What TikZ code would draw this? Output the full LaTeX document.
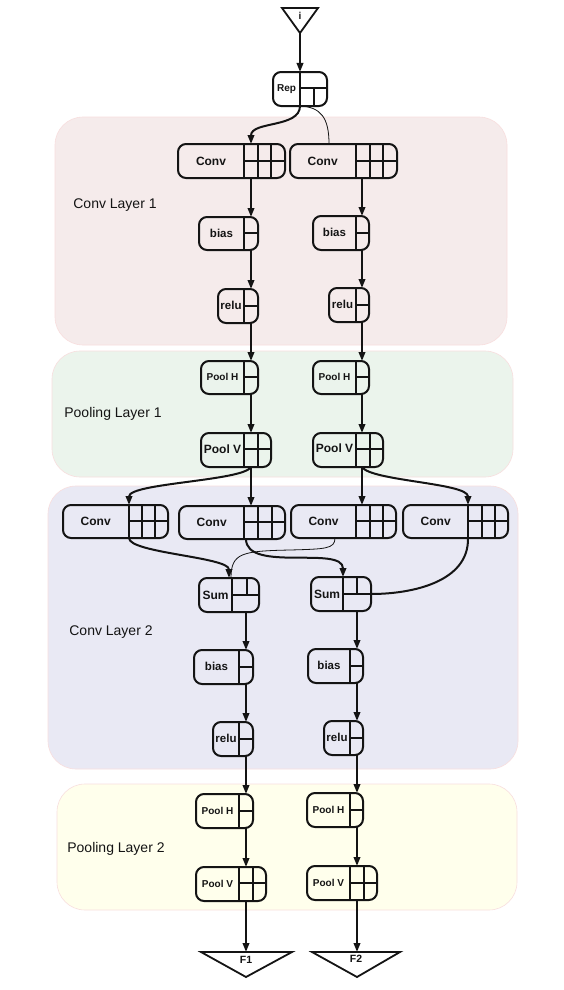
\documentclass[tikz,border=0pt]{standalone}
\usepackage{fontspec}
\setmainfont{Liberation Sans}
\usetikzlibrary{arrows.meta,fit}
\definecolor{pinkb}{HTML}{F8DEDE}
\definecolor{cone}{HTML}{F5EBEB}
\definecolor{pone}{HTML}{EBF4EC}
\definecolor{ctwo}{HTML}{E9E9F4}
\definecolor{ptwo}{HTML}{FFFFEC}
\definecolor{ink}{HTML}{141414}
\newcommand{\fsz}[1]{\fontsize{#1}{#1}\selectfont\bfseries}
\tikzset{
  panel/.style={draw=pinkb, line width=0.6pt, rounded corners=28pt},
  rec/.style={draw=ink, line width=2pt, rounded corners=8pt, inner sep=0pt, outer sep=0pt},
  cell/.style={line width=2pt, draw=ink},
  edge/.style={line width=2pt, draw=ink, -{Triangle[length=9pt,width=6.5pt]}},
  plainedge/.style={line width=2pt, draw=ink},
  thinedge/.style={line width=0.8pt, draw=ink},
  lbl/.style={inner sep=0pt, text=ink},
  plbl/.style={inner sep=0pt, font=\fontsize{14}{16}\selectfont, text=ink},
  tri/.style={draw=ink, line width=1.8pt, line join=miter},
}
\begin{document}
\begin{tikzpicture}[x=1pt,y=-1pt]
\useasboundingbox (0,0) rectangle (564,990);
\fill[white] (0,0) rectangle (564,990);

% panels
\draw[panel, fill=cone] (55,117) rectangle (507,345);
\draw[panel, fill=pone] (52,351) rectangle (513,477);
\draw[panel, fill=ctwo] (48,486) rectangle (518,769);
\draw[panel, fill=ptwo] (57,784) rectangle (517,910);
\node[plbl] (lab1) at (115,205) {Conv Layer 1};
\node[plbl] (lab2) at (113,414) {Pooling Layer 1};
\node[plbl] (lab3) at (111,632) {Conv Layer 2};
\node[plbl] (lab4) at (116,849) {Pooling Layer 2};

% column coordinates
\coordinate (repx) at (300,0);
\coordinate (colA) at (251,0);
\coordinate (colB) at (362,0);
\coordinate (colC) at (246,0);
\coordinate (colD) at (357,0);
\coordinate (c1bin) at (329,0);
\coordinate (c2ax) at (129,0);
\coordinate (c2dx) at (468,0);
\coordinate (c2cout) at (335,0);
\coordinate (s2ain) at (229,0);
\coordinate (s2athin) at (231,0);
\coordinate (s2bin) at (343,0);
\coordinate (s2bh) at (0,594);

% input triangle
\draw[tri] (282,8) -- (318,8) -- (300,33) -- cycle;
\node[lbl, font=\fsz{10}] (iname) at (300,16) {i};
\coordinate (itip) at (300,33);

% Rep
\node[rec, fit={(273,72) (327,106)}] (rep) {};
\draw[cell] (300,72) -- (300,106) (300,88) -- (327,88) (314,88) -- (314,106);
\node[lbl, font=\fsz{10}] (rept) at (286.5,89) {Rep};

% Conv layer 1
\node[rec, fit={(178,144) (285,178)}] (conv1a) {};
\draw[cell] (244,144) -- (244,178) (258,144) -- (258,178) (271,144) -- (271,178) (244,161) -- (285,161);
\node[lbl, font=\fsz{12}] (conv1at) at (211,161) {Conv};
\node[rec, fit={(290,144) (397,178)}] (conv1b) {};
\draw[cell] (356,144) -- (356,178) (370,144) -- (370,178) (383,144) -- (383,178) (356,161) -- (397,161);
\node[lbl, font=\fsz{12}] (conv1bt) at (322.7,161) {Conv};

\node[rec, fit={(199,217) (258,250)}] (bias1a) {};
\draw[cell] (244,217) -- (244,250) (244,233) -- (258,233);
\node[lbl, font=\fsz{11.5}] (bias1at) at (221.5,233) {bias};
\node[rec, fit={(313,216) (369,250)}] (bias1b) {};
\draw[cell] (356,216) -- (356,250) (356,233) -- (369,233);
\node[lbl, font=\fsz{11.5}] (bias1bt) at (334.5,232.5) {bias};

\node[rec, fit={(218,289) (258,323)}] (relu1a) {};
\draw[cell] (244,289) -- (244,323) (244,306) -- (258,306);
\node[lbl, font=\fsz{11.5}] (relu1at) at (231,305.5) {relu};
\node[rec, fit={(329,288) (369,322)}] (relu1b) {};
\draw[cell] (356,288) -- (356,322) (356,305) -- (369,305);
\node[lbl, font=\fsz{11.5}] (relu1bt) at (342.5,304.5) {relu};

% Pooling layer 1
\node[rec, fit={(201,361) (258,394)}] (poolh1a) {};
\draw[cell] (244,361) -- (244,394) (244,377) -- (258,377);
\node[lbl, font=\fsz{10}] (poolh1at) at (222.5,377) {Pool H};
\node[rec, fit={(313,361) (369,394)}] (poolh1b) {};
\draw[cell] (356,361) -- (356,394) (356,377) -- (369,377);
\node[lbl, font=\fsz{10}] (poolh1bt) at (334.5,377) {Pool H};

\node[rec, fit={(201,433) (271,467)}] (poolv1a) {};
\draw[cell] (244,433) -- (244,467) (258,433) -- (258,467) (244,449) -- (271,449);
\node[lbl, font=\fsz{12}] (poolv1at) at (222.5,449) {Pool V};
\node[rec, fit={(313,433) (383,467)}] (poolv1b) {};
\draw[cell] (356,433) -- (356,467) (370,433) -- (370,467) (356,449) -- (383,449);
\node[lbl, font=\fsz{12}] (poolv1bt) at (334.5,448.5) {Pool V};

% Conv layer 2
\node[rec, fit={(63,505) (168,538)}] (conv2a) {};
\draw[cell] (129,505) -- (129,538) (142,505) -- (142,538) (155,505) -- (155,538) (129,521) -- (168,521);
\node[lbl, font=\fsz{12}] (conv2at) at (95.7,521) {Conv};
\node[rec, fit={(179,506) (285,539)}] (conv2b) {};
\draw[cell] (244,506) -- (244,539) (258,506) -- (258,539) (272,506) -- (272,539) (244,522) -- (285,522);
\node[lbl, font=\fsz{12}] (conv2bt) at (211.7,522) {Conv};
\node[rec, fit={(291,505) (396,538)}] (conv2c) {};
\draw[cell] (356,505) -- (356,538) (370,505) -- (370,538) (383,505) -- (383,538) (356,521) -- (396,521);
\node[lbl, font=\fsz{12}] (conv2ct) at (323.5,521) {Conv};
\node[rec, fit={(403,505) (508,538)}] (conv2d) {};
\draw[cell] (468,505) -- (468,538) (482,505) -- (482,538) (495,505) -- (495,538) (468,521) -- (508,521);
\node[lbl, font=\fsz{12}] (conv2dt) at (435.7,521) {Conv};

\node[rec, fit={(199,578) (259,612)}] (sum2a) {};
\draw[cell] (232,578) -- (232,612) (232,595) -- (259,595) (247,578) -- (247,595);
\node[lbl, font=\fsz{12}] (sum2at) at (215.5,595) {Sum};
\node[rec, fit={(311,577) (371,611)}] (sum2b) {};
\draw[cell] (343,577) -- (343,611) (343,594) -- (371,594) (357,577) -- (357,594);
\node[lbl, font=\fsz{12}] (sum2bt) at (327,594) {Sum};

\node[rec, fit={(194,650) (253,684)}] (bias2a) {};
\draw[cell] (239,650) -- (239,684) (239,667) -- (253,667);
\node[lbl, font=\fsz{11.5}] (bias2at) at (216.5,666) {bias};
\node[rec, fit={(308,649) (363,683)}] (bias2b) {};
\draw[cell] (350,649) -- (350,683) (350,666) -- (363,666);
\node[lbl, font=\fsz{11.5}] (bias2bt) at (329,665) {bias};

\node[rec, fit={(213,722) (253,756)}] (relu2a) {};
\draw[cell] (239,722) -- (239,756) (239,739) -- (253,739);
\node[lbl, font=\fsz{11.5}] (relu2at) at (226,738.5) {relu};
\node[rec, fit={(324,721) (363,755)}] (relu2b) {};
\draw[cell] (350,721) -- (350,755) (350,738) -- (363,738);
\node[lbl, font=\fsz{11.5}] (relu2bt) at (337,737.5) {relu};

% Pooling layer 2
\node[rec, fit={(196,794) (253,828)}] (poolh2a) {};
\draw[cell] (239,794) -- (239,828) (239,811) -- (253,811);
\node[lbl, font=\fsz{10}] (poolh2at) at (217.5,810.5) {Pool H};
\node[rec, fit={(307,793) (363,827)}] (poolh2b) {};
\draw[cell] (350,793) -- (350,827) (350,810) -- (363,810);
\node[lbl, font=\fsz{10}] (poolh2bt) at (328.5,809.5) {Pool H};

\node[rec, fit={(196,867) (266,901)}] (poolv2a) {};
\draw[cell] (239,867) -- (239,901) (253,867) -- (253,901) (239,883) -- (266,883);
\node[lbl, font=\fsz{10}] (poolv2at) at (217.5,883.5) {Pool V};
\node[rec, fit={(307,866) (377,900)}] (poolv2b) {};
\draw[cell] (350,866) -- (350,900) (364,866) -- (364,900) (350,883) -- (377,883);
\node[lbl, font=\fsz{10}] (poolv2bt) at (328.5,882.5) {Pool V};

% outputs
\draw[tri] (201,952) -- (292,952) -- (246,977) -- cycle;
\node[lbl, font=\fsz{10.5}] (f1) at (246,960) {F1};
\coordinate (f1top) at (246,952);
\draw[tri] (312,952) -- (400,952) -- (357,977) -- cycle;
\node[lbl, font=\fsz{10.5}] (f2) at (356,959) {F2};
\coordinate (f2top) at (357,952);

% connectors
\draw[edge] (itip) -- (rep.north -| repx);
\draw[edge] (rep.south -| repx) .. controls (300,128) and (251,121) .. (conv1a.north -| colA);
\draw[thinedge] (rep.south -| repx) .. controls (321,107) and (329,118) .. (conv1b.north -| c1bin);

\draw[edge] (conv1a.south -| colA) -- (bias1a.north -| colA);
\draw[edge] (bias1a.south -| colA) -- (relu1a.north -| colA);
\draw[edge] (relu1a.south -| colA) -- (poolh1a.north -| colA);
\draw[edge] (poolh1a.south -| colA) -- (poolv1a.north -| colA);
\draw[edge] (conv1b.south -| colB) -- (bias1b.north -| colB);
\draw[edge] (bias1b.south -| colB) -- (relu1b.north -| colB);
\draw[edge] (relu1b.south -| colB) -- (poolh1b.north -| colB);
\draw[edge] (poolh1b.south -| colB) -- (poolv1b.north -| colB);

\draw[edge] (poolv1a.south -| colA) .. controls (243,481) and (129,483) .. (conv2a.north -| c2ax);
\draw[edge] (poolv1a.south -| colA) -- (conv2b.north -| colA);
\draw[edge] (poolv1b.south -| colB) -- (conv2c.north -| colB);
\draw[edge] (poolv1b.south -| colB) .. controls (371,481) and (468,483) .. (conv2d.north -| c2dx);

\draw[edge] (conv2a.south -| c2ax) .. controls (129,553) and (229,557) .. (sum2a.north -| s2ain);
\draw[thinedge] (conv2c.south -| c2cout) .. controls (335,549) and (325,549) .. (290,550) .. controls (242,551) and (231,553) .. (sum2a.north -| s2athin);
\draw[edge] (conv2b.south -| colC) .. controls (246,573) and (343,545) .. (sum2b.north -| s2bin);
\draw[plainedge] (conv2d.south -| c2dx) .. controls (469,582) and (412,594) .. (sum2b.east |- s2bh);

\draw[edge] (sum2a.south -| colC) -- (bias2a.north -| colC);
\draw[edge] (bias2a.south -| colC) -- (relu2a.north -| colC);
\draw[edge] (relu2a.south -| colC) -- (poolh2a.north -| colC);
\draw[edge] (poolh2a.south -| colC) -- (poolv2a.north -| colC);
\draw[edge] (poolv2a.south -| colC) -- (f1top);
\draw[edge] (sum2b.south -| colD) -- (bias2b.north -| colD);
\draw[edge] (bias2b.south -| colD) -- (relu2b.north -| colD);
\draw[edge] (relu2b.south -| colD) -- (poolh2b.north -| colD);
\draw[edge] (poolh2b.south -| colD) -- (poolv2b.north -| colD);
\draw[edge] (poolv2b.south -| colD) -- (f2top);
\end{tikzpicture}
\end{document}
